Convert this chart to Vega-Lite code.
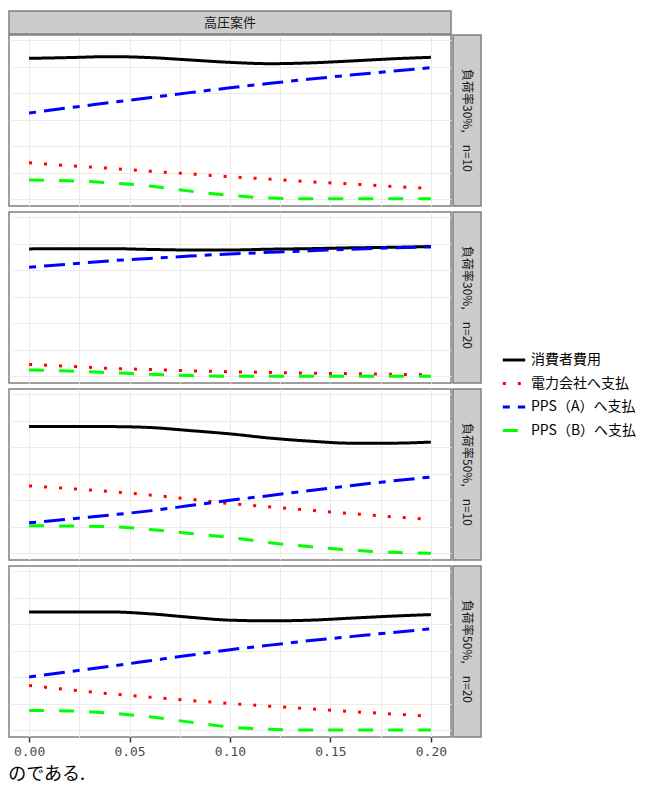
{
  "$schema": "https://vega.github.io/schema/vega-lite/v6.json",
  "padding": {"left": 8, "top": 10, "right": 0, "bottom": 0},
  "background": "white",
  "title": {"text": "のである.", "orient": "bottom", "anchor": "start", "fontSize": 18, "font": "Noto Sans CJK JP", "fontWeight": "normal", "color": "#000000", "offset": 7},
  "config": {
    "view": {"stroke": "#7f7f7f", "strokeWidth": 1.5},
    "font": "Noto Sans CJK JP",
    "concat": {"spacing": 0}
  },
  "datasets": {
    "d": [
      {"p":1,"x":0.00,"消費者費用":5.31,"電力会社へ支払":1.375,"PPS（A）へ支払":3.25,"PPS（B）へ支払":0.725},
      {"p":1,"x":0.02,"消費者費用":5.34,"電力会社へ支払":1.27,"PPS（A）へ支払":3.45,"PPS（B）へ支払":0.70},
      {"p":1,"x":0.04,"消費者費用":5.375,"電力会社へ支払":1.17,"PPS（A）へ支払":3.64,"PPS（B）へ支払":0.625},
      {"p":1,"x":0.06,"消費者費用":5.34,"電力会社へ支払":1.06,"PPS（A）へ支払":3.83,"PPS（B）へ支払":0.5},
      {"p":1,"x":0.08,"消費者費用":5.25,"電力会社へ支払":0.96,"PPS（A）へ支払":4.02,"PPS（B）へ支払":0.31},
      {"p":1,"x":0.10,"消費者費用":5.16,"電力会社へ支払":0.85,"PPS（A）へ支払":4.20,"PPS（B）へ支払":0.15},
      {"p":1,"x":0.12,"消費者費用":5.11,"電力会社へ支払":0.76,"PPS（A）へ支払":4.37,"PPS（B）へ支払":0.05},
      {"p":1,"x":0.14,"消費者費用":5.14,"電力会社へ支払":0.66,"PPS（A）へ支払":4.53,"PPS（B）へ支払":0.02},
      {"p":1,"x":0.16,"消費者費用":5.21,"電力会社へ支払":0.58,"PPS（A）へ支払":4.68,"PPS（B）へ支払":0.02},
      {"p":1,"x":0.18,"消費者費用":5.29,"電力会社へ支払":0.49,"PPS（A）へ支払":4.82,"PPS（B）へ支払":0.02},
      {"p":1,"x":0.20,"消費者費用":5.35,"電力会社へ支払":0.41,"PPS（A）へ支払":4.96,"PPS（B）へ支払":0.02},
      {"p":2,"x":0.00,"消費者費用":4.8,"電力会社へ支払":0.45,"PPS（A）へ支払":4.11,"PPS（B）へ支払":0.24},
      {"p":2,"x":0.02,"消費者費用":4.81,"電力会社へ支払":0.38,"PPS（A）へ支払":4.23,"PPS（B）へ支払":0.2},
      {"p":2,"x":0.04,"消費者費用":4.81,"電力会社へ支払":0.3,"PPS（A）へ支払":4.35,"PPS（B）へ支払":0.14},
      {"p":2,"x":0.06,"消費者費用":4.78,"電力会社へ支払":0.26,"PPS（A）へ支払":4.44,"PPS（B）へ支払":0.08},
      {"p":2,"x":0.08,"消費者費用":4.76,"電力会社へ支払":0.21,"PPS（A）へ支払":4.53,"PPS（B）へ支払":0.03},
      {"p":2,"x":0.10,"消費者費用":4.76,"電力会社へ支払":0.175,"PPS（A）へ支払":4.61,"PPS（B）へ支払":0.0},
      {"p":2,"x":0.12,"消費者費用":4.79,"電力会社へ支払":0.15,"PPS（A）へ支払":4.67,"PPS（B）へ支払":0.0},
      {"p":2,"x":0.14,"消費者費用":4.81,"電力会社へ支払":0.12,"PPS（A）へ支払":4.73,"PPS（B）へ支払":0.0},
      {"p":2,"x":0.16,"消費者費用":4.84,"電力会社へ支払":0.1,"PPS（A）へ支払":4.79,"PPS（B）へ支払":0.0},
      {"p":2,"x":0.18,"消費者費用":4.86,"電力会社へ支払":0.08,"PPS（A）へ支払":4.84,"PPS（B）へ支払":0.0},
      {"p":2,"x":0.20,"消費者費用":4.89,"電力会社へ支払":0.06,"PPS（A）へ支払":4.875,"PPS（B）へ支払":0.0},
      {"p":3,"x":0.00,"消費者費用":4.775,"電力会社へ支払":2.54,"PPS（A）へ支払":1.15,"PPS（B）へ支払":1.04},
      {"p":3,"x":0.02,"消費者費用":4.78,"電力会社へ支払":2.44,"PPS（A）へ支払":1.29,"PPS（B）へ支払":1.03},
      {"p":3,"x":0.04,"消費者費用":4.775,"電力会社へ支払":2.33,"PPS（A）へ支払":1.44,"PPS（B）へ支払":1.01},
      {"p":3,"x":0.06,"消費者費用":4.74,"電力会社へ支払":2.20,"PPS（A）へ支払":1.60,"PPS（B）へ支払":0.9},
      {"p":3,"x":0.08,"消費者費用":4.625,"電力会社へ支払":2.04,"PPS（A）へ支払":1.80,"PPS（B）へ支払":0.75},
      {"p":3,"x":0.10,"消費者費用":4.5,"電力会社へ支払":1.875,"PPS（A）へ支払":2.0,"PPS（B）へ支払":0.6},
      {"p":3,"x":0.12,"消費者費用":4.34,"電力会社へ支払":1.75,"PPS（A）へ支払":2.18,"PPS（B）へ支払":0.4},
      {"p":3,"x":0.14,"消費者費用":4.225,"電力会社へ支払":1.62,"PPS（A）へ支払":2.37,"PPS（B）へ支払":0.25},
      {"p":3,"x":0.16,"消費者費用":4.15,"電力会社へ支払":1.50,"PPS（A）へ支払":2.55,"PPS（B）へ支払":0.125},
      {"p":3,"x":0.18,"消費者費用":4.15,"電力会社へ支払":1.38,"PPS（A）へ支払":2.72,"PPS（B）へ支払":0.04},
      {"p":3,"x":0.20,"消費者費用":4.19,"電力会社へ支払":1.28,"PPS（A）へ支払":2.875,"PPS（B）へ支払":0.0},
      {"p":4,"x":0.00,"消費者費用":4.46,"電力会社へ支払":1.69,"PPS（A）へ支払":2.01,"PPS（B）へ支払":0.75},
      {"p":4,"x":0.02,"消費者費用":4.46,"電力会社へ支払":1.53,"PPS（A）へ支払":2.21,"PPS（B）へ支払":0.73},
      {"p":4,"x":0.04,"消費者費用":4.46,"電力会社へ支払":1.38,"PPS（A）へ支払":2.41,"PPS（B）へ支払":0.65},
      {"p":4,"x":0.06,"消費者費用":4.39,"電力会社へ支払":1.25,"PPS（A）へ支払":2.62,"PPS（B）へ支払":0.51},
      {"p":4,"x":0.08,"消費者費用":4.26,"電力会社へ支払":1.13,"PPS（A）へ支払":2.83,"PPS（B）へ支払":0.31},
      {"p":4,"x":0.10,"消費者費用":4.15,"電力会社へ支払":1.01,"PPS（A）へ支払":3.04,"PPS（B）へ支払":0.125},
      {"p":4,"x":0.12,"消費者費用":4.125,"電力会社へ支払":0.91,"PPS（A）へ支払":3.21,"PPS（B）へ支払":0.04},
      {"p":4,"x":0.14,"消費者費用":4.15,"電力会社へ支払":0.81,"PPS（A）へ支払":3.38,"PPS（B）へ支払":0.01},
      {"p":4,"x":0.16,"消費者費用":4.225,"電力会社へ支払":0.71,"PPS（A）へ支払":3.53,"PPS（B）へ支払":0.01},
      {"p":4,"x":0.18,"消費者費用":4.30,"電力会社へ支払":0.62,"PPS（A）へ支払":3.68,"PPS（B）へ支払":0.01},
      {"p":4,"x":0.20,"消費者費用":4.36,"電力会社へ支払":0.53,"PPS（A）へ支払":3.825,"PPS（B）へ支払":0.01}
    ],
    "top": [{"label": "高圧案件"}],
    "s1": [{"label": "負荷率30%,　n=10"}],
    "s2": [{"label": "負荷率30%,　n=20"}],
    "s3": [{"label": "負荷率50%,　n=10"}],
    "s4": [{"label": "負荷率50%,　n=20"}]
  },
  "spacing": -1,
  "vconcat": [
    {
      "data": {"name": "top"},
      "width": 442, "height": 23,
      "view": {"fill": "#cccccc", "stroke": "#7f7f7f", "strokeWidth": 1.5},
      "mark": {"type": "text", "fontSize": 13, "color": "#1a1a1a", "font": "Noto Sans CJK JP"},
      "encoding": {
        "x": {"datum": 0.5, "type": "quantitative", "scale": {"domain": [0, 1]}, "axis": null},
        "y": {"datum": 0.5, "type": "quantitative", "scale": {"domain": [0, 1]}, "axis": null},
        "text": {"field": "label"}
      }
    },
    {
      "spacing": 4,
      "vconcat": [
        {"hconcat": [
          {
            "data": {"name": "d"}, "width": 442, "height": 171,
            "transform": [{"filter": "datum.p == 1"}, {"fold": ["消費者費用","電力会社へ支払","PPS（A）へ支払","PPS（B）へ支払"], "as": ["k","y"]}],
            "mark": {"type": "line", "strokeWidth": 3, "interpolate": "monotone", "strokeCap": "butt"},
            "encoding": {
              "x": {"field": "x", "type": "quantitative", "scale": {"domain": [-0.01, 0.21], "nice": false, "zero": false}, "axis": {"title": null, "labels": false, "ticks": false, "domain": false, "values": [0,0.025,0.05,0.075,0.1,0.125,0.15,0.175,0.2], "gridColor": "#ebebeb"}},
              "y": {"field": "y", "type": "quantitative", "scale": {"domain": [-0.25, 6.19], "nice": false, "zero": false}, "axis": {"title": null, "labels": false, "ticks": false, "domain": false, "values": [0,1,2,3,4,5,6], "gridColor": "#ebebeb"}},
              "color": {"field": "k", "type": "nominal", "scale": {"domain": ["消費者費用","電力会社へ支払","PPS（A）へ支払","PPS（B）へ支払"], "range": ["#000000","#ff0000","#0000ff","#00ff00"]}, "legend": {"orient": "none", "legendX": 492, "legendY": 336, "title": null, "symbolType": "stroke", "symbolSize": 500, "symbolStrokeWidth": 3, "labelFont": "Noto Sans CJK JP", "labelFontSize": 14, "labelColor": "#000000", "rowPadding": 3.5, "labelOffset": 4}},
              "strokeDash": {"field": "k", "type": "nominal", "scale": {"domain": ["消費者費用","電力会社へ支払","PPS（A）へ支払","PPS（B）へ支払"], "range": [[1,0],[3,12],[7,8,21,8],[15,15]]}, "legend": {"orient": "none", "legendX": 492, "legendY": 336, "title": null, "symbolType": "stroke", "symbolSize": 500, "symbolStrokeWidth": 3, "labelFont": "Noto Sans CJK JP", "labelFontSize": 14, "labelColor": "#000000", "rowPadding": 3.5, "labelOffset": 4}}
            }
          },
          {
            "data": {"name": "s1"}, "width": 28, "height": 171,
            "view": {"fill": "#cccccc", "stroke": "#7f7f7f", "strokeWidth": 1.5},
            "mark": {"type": "text", "fontSize": 12, "angle": 90, "color": "#1a1a1a", "font": "Noto Sans CJK JP"},
            "encoding": {
              "x": {"datum": 0.5, "type": "quantitative", "scale": {"domain": [0, 1]}, "axis": null},
              "y": {"datum": 0.5, "type": "quantitative", "scale": {"domain": [0, 1]}, "axis": null},
              "text": {"field": "label"}
            }
          }
        ]},
        {"hconcat": [
          {
            "data": {"name": "d"}, "width": 442, "height": 171,
            "transform": [{"filter": "datum.p == 2"}, {"fold": ["消費者費用","電力会社へ支払","PPS（A）へ支払","PPS（B）へ支払"], "as": ["k","y"]}],
            "mark": {"type": "line", "strokeWidth": 3, "interpolate": "monotone", "strokeCap": "butt"},
            "encoding": {
              "x": {"field": "x", "type": "quantitative", "scale": {"domain": [-0.01, 0.21], "nice": false, "zero": false}, "axis": {"title": null, "labels": false, "ticks": false, "domain": false, "values": [0,0.025,0.05,0.075,0.1,0.125,0.15,0.175,0.2], "gridColor": "#ebebeb"}},
              "y": {"field": "y", "type": "quantitative", "scale": {"domain": [-0.25, 6.19], "nice": false, "zero": false}, "axis": {"title": null, "labels": false, "ticks": false, "domain": false, "values": [0,1,2,3,4,5,6], "gridColor": "#ebebeb"}},
              "color": {"field": "k", "type": "nominal", "scale": {"domain": ["消費者費用","電力会社へ支払","PPS（A）へ支払","PPS（B）へ支払"], "range": ["#000000","#ff0000","#0000ff","#00ff00"]}, "legend": {"orient": "none", "legendX": 492, "legendY": 336, "title": null, "symbolType": "stroke", "symbolSize": 500, "symbolStrokeWidth": 3, "labelFont": "Noto Sans CJK JP", "labelFontSize": 14, "labelColor": "#000000", "rowPadding": 3.5, "labelOffset": 4}},
              "strokeDash": {"field": "k", "type": "nominal", "scale": {"domain": ["消費者費用","電力会社へ支払","PPS（A）へ支払","PPS（B）へ支払"], "range": [[1,0],[3,12],[7,8,21,8],[15,15]]}, "legend": {"orient": "none", "legendX": 492, "legendY": 336, "title": null, "symbolType": "stroke", "symbolSize": 500, "symbolStrokeWidth": 3, "labelFont": "Noto Sans CJK JP", "labelFontSize": 14, "labelColor": "#000000", "rowPadding": 3.5, "labelOffset": 4}}
            }
          },
          {
            "data": {"name": "s2"}, "width": 28, "height": 171,
            "view": {"fill": "#cccccc", "stroke": "#7f7f7f", "strokeWidth": 1.5},
            "mark": {"type": "text", "fontSize": 12, "angle": 90, "color": "#1a1a1a", "font": "Noto Sans CJK JP"},
            "encoding": {
              "x": {"datum": 0.5, "type": "quantitative", "scale": {"domain": [0, 1]}, "axis": null},
              "y": {"datum": 0.5, "type": "quantitative", "scale": {"domain": [0, 1]}, "axis": null},
              "text": {"field": "label"}
            }
          }
        ]},
        {"hconcat": [
          {
            "data": {"name": "d"}, "width": 442, "height": 171,
            "transform": [{"filter": "datum.p == 3"}, {"fold": ["消費者費用","電力会社へ支払","PPS（A）へ支払","PPS（B）へ支払"], "as": ["k","y"]}],
            "mark": {"type": "line", "strokeWidth": 3, "interpolate": "monotone", "strokeCap": "butt"},
            "encoding": {
              "x": {"field": "x", "type": "quantitative", "scale": {"domain": [-0.01, 0.21], "nice": false, "zero": false}, "axis": {"title": null, "labels": false, "ticks": false, "domain": false, "values": [0,0.025,0.05,0.075,0.1,0.125,0.15,0.175,0.2], "gridColor": "#ebebeb"}},
              "y": {"field": "y", "type": "quantitative", "scale": {"domain": [-0.25, 6.19], "nice": false, "zero": false}, "axis": {"title": null, "labels": false, "ticks": false, "domain": false, "values": [0,1,2,3,4,5,6], "gridColor": "#ebebeb"}},
              "color": {"field": "k", "type": "nominal", "scale": {"domain": ["消費者費用","電力会社へ支払","PPS（A）へ支払","PPS（B）へ支払"], "range": ["#000000","#ff0000","#0000ff","#00ff00"]}, "legend": {"orient": "none", "legendX": 492, "legendY": 336, "title": null, "symbolType": "stroke", "symbolSize": 500, "symbolStrokeWidth": 3, "labelFont": "Noto Sans CJK JP", "labelFontSize": 14, "labelColor": "#000000", "rowPadding": 3.5, "labelOffset": 4}},
              "strokeDash": {"field": "k", "type": "nominal", "scale": {"domain": ["消費者費用","電力会社へ支払","PPS（A）へ支払","PPS（B）へ支払"], "range": [[1,0],[3,12],[7,8,21,8],[15,15]]}, "legend": {"orient": "none", "legendX": 492, "legendY": 336, "title": null, "symbolType": "stroke", "symbolSize": 500, "symbolStrokeWidth": 3, "labelFont": "Noto Sans CJK JP", "labelFontSize": 14, "labelColor": "#000000", "rowPadding": 3.5, "labelOffset": 4}}
            }
          },
          {
            "data": {"name": "s3"}, "width": 28, "height": 171,
            "view": {"fill": "#cccccc", "stroke": "#7f7f7f", "strokeWidth": 1.5},
            "mark": {"type": "text", "fontSize": 12, "angle": 90, "color": "#1a1a1a", "font": "Noto Sans CJK JP"},
            "encoding": {
              "x": {"datum": 0.5, "type": "quantitative", "scale": {"domain": [0, 1]}, "axis": null},
              "y": {"datum": 0.5, "type": "quantitative", "scale": {"domain": [0, 1]}, "axis": null},
              "text": {"field": "label"}
            }
          }
        ]},
        {"hconcat": [
          {
            "data": {"name": "d"}, "width": 442, "height": 171,
            "transform": [{"filter": "datum.p == 4"}, {"fold": ["消費者費用","電力会社へ支払","PPS（A）へ支払","PPS（B）へ支払"], "as": ["k","y"]}],
            "mark": {"type": "line", "strokeWidth": 3, "interpolate": "monotone", "strokeCap": "butt"},
            "encoding": {
              "x": {"field": "x", "type": "quantitative", "scale": {"domain": [-0.01, 0.21], "nice": false, "zero": false}, "axis": {"title": null, "domain": false, "values": [0,0.025,0.05,0.075,0.1,0.125,0.15,0.175,0.2], "gridColor": "#ebebeb", "format": ".2f", "labelExpr": "round(datum.value*40)%2==0 ? datum.label : ''", "tickColor": {"condition": {"test": "round(datum.value*40)%2==0", "value": "#333333"}, "value": "transparent"}, "tickSize": 5, "tickWidth": 1.5, "labelColor": "#4d4d4d", "labelFontSize": 13, "labelFont": "DejaVu Sans Mono", "labelPadding": 3, "labelOverlap": false, "labelFlush": false}},
              "y": {"field": "y", "type": "quantitative", "scale": {"domain": [-0.25, 6.19], "nice": false, "zero": false}, "axis": {"title": null, "labels": false, "ticks": false, "domain": false, "values": [0,1,2,3,4,5,6], "gridColor": "#ebebeb"}},
              "color": {"field": "k", "type": "nominal", "scale": {"domain": ["消費者費用","電力会社へ支払","PPS（A）へ支払","PPS（B）へ支払"], "range": ["#000000","#ff0000","#0000ff","#00ff00"]}, "legend": {"orient": "none", "legendX": 492, "legendY": 336, "title": null, "symbolType": "stroke", "symbolSize": 500, "symbolStrokeWidth": 3, "labelFont": "Noto Sans CJK JP", "labelFontSize": 14, "labelColor": "#000000", "rowPadding": 3.5, "labelOffset": 4}},
              "strokeDash": {"field": "k", "type": "nominal", "scale": {"domain": ["消費者費用","電力会社へ支払","PPS（A）へ支払","PPS（B）へ支払"], "range": [[1,0],[3,12],[7,8,21,8],[15,15]]}, "legend": {"orient": "none", "legendX": 492, "legendY": 336, "title": null, "symbolType": "stroke", "symbolSize": 500, "symbolStrokeWidth": 3, "labelFont": "Noto Sans CJK JP", "labelFontSize": 14, "labelColor": "#000000", "rowPadding": 3.5, "labelOffset": 4}}
            }
          },
          {
            "data": {"name": "s4"}, "width": 28, "height": 171,
            "view": {"fill": "#cccccc", "stroke": "#7f7f7f", "strokeWidth": 1.5},
            "mark": {"type": "text", "fontSize": 12, "angle": 90, "color": "#1a1a1a", "font": "Noto Sans CJK JP"},
            "encoding": {
              "x": {"datum": 0.5, "type": "quantitative", "scale": {"domain": [0, 1]}, "axis": null},
              "y": {"datum": 0.5, "type": "quantitative", "scale": {"domain": [0, 1]}, "axis": null},
              "text": {"field": "label"}
            }
          }
        ]}
      ]
    }
  ]
}
